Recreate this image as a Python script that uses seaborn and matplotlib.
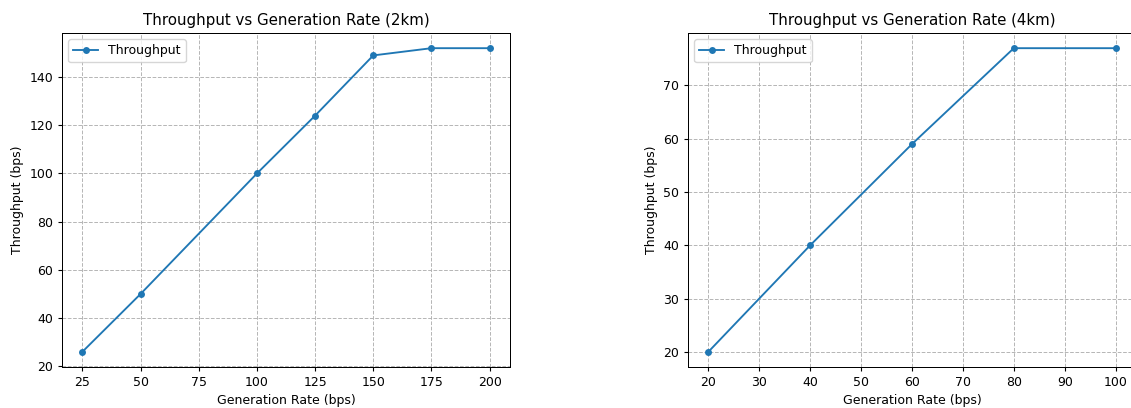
import matplotlib
matplotlib.use("Agg")
import matplotlib.pyplot as plt
import seaborn as sns
import pandas as pd

rate_2km = [25, 50, 100, 125, 150, 175, 200]
thr_2km = [26, 50, 100, 124, 149, 152, 152]
rate_4km = [20, 40, 60, 80, 100]
thr_4km = [20, 40, 59, 77, 77]

titles = ["Throughput vs Generation Rate (2km)", "Throughput vs Generation Rate (4km)"]

s = 0.9
plt.rcParams.update({
    "font.size": 10 * s,
    "axes.titlesize": 12 * s,
    "xtick.major.size": 3.5 * s,
    "ytick.major.size": 3.5 * s,
    "xtick.major.pad": 3.5 * s,
    "ytick.major.pad": 3.5 * s,
    "axes.labelpad": 4 * s,
    "axes.titlepad": 6 * s,
    "axes.linewidth": 0.8 * s,
})

fig = plt.figure(figsize=(11.31, 4.08), dpi=100)
ax1 = fig.add_axes([62/1131, 1-367/408, (510-62)/1131, (367-33)/408])
ax2 = fig.add_axes([688/1131, 1-367/408, (1136-688)/1131, (367-33)/408])

for ax, xs, ys, t in [(ax1, rate_2km, thr_2km, titles[0]), (ax2, rate_4km, thr_4km, titles[1])]:
    df = pd.DataFrame({"Generation Rate (bps)": xs, "Throughput (bps)": ys})
    sns.lineplot(data=df, x="Generation Rate (bps)", y="Throughput (bps)", ax=ax,
                 marker="o", color="#1f77b4", label="Throughput",
                 markersize=5, markeredgewidth=0, linewidth=1.5 * s)
    ax.set_title(t)
    ax.grid(True, linestyle="--", color="#b0b0b0", alpha=0.9, linewidth=0.8 * s)
    ax.legend(loc="upper left")

ax1.set_yticks([20, 40, 60, 80, 100, 120, 140])
ax1.set_xticks([25, 50, 75, 100, 125, 150, 175, 200])
ax2.set_xticks([20, 30, 40, 50, 60, 70, 80, 90, 100])

fig.savefig("out.png", dpi=100)
